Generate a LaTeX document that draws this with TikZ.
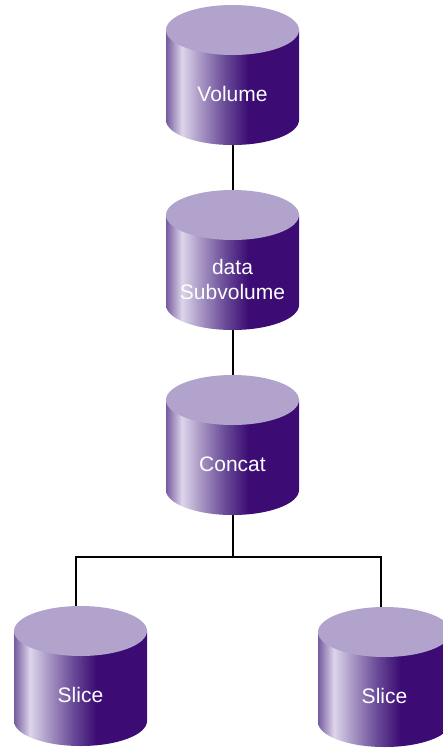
\documentclass[tikz,border=0pt]{standalone}
\usepackage{fontspec}
\setmainfont{Liberation Sans}
\usetikzlibrary{backgrounds}
\definecolor{cyltop}{HTML}{B1A3CC}
\definecolor{cedge}{HTML}{765A9F}
\definecolor{clight}{HTML}{DDD5EA}
\definecolor{cmida}{HTML}{A896C4}
\definecolor{cmidb}{HTML}{6A4C98}
\definecolor{cdark}{HTML}{3C0B74}
\pgfdeclarehorizontalshading{cylshade}{100bp}{color(0bp)=(cedge); color(25bp)=(cedge); color(31bp)=(clight); color(38bp)=(cmida); color(47bp)=(cmidb); color(56bp)=(cdark); color(100bp)=(cdark)}
\tikzset{
  link/.style={draw=black, line width=2pt},
  cyllabel/.style={text=white, font=\fontsize{21}{25}\selectfont, align=center, inner sep=0pt},
}
\newcommand\mycyl[4]{%
  \begin{scope}[shift={(#2,-#3)}]
    \shade[shading=cylshade] (-66.5,0) -- (-66.5,-90) arc[start angle=180,end angle=360,x radius=66.5,y radius=25] -- (66.5,0) -- cycle;
    \fill[cyltop] (0,0) ellipse[x radius=66.5,y radius=25];
    \coordinate (#1-t) at (0,25);
    \coordinate (#1-b) at (0,-115);
    \node[cyllabel] (#1) at (0,-64) {#4};
  \end{scope}}
\begin{document}
\begin{tikzpicture}[x=1pt,y=1pt]
  \useasboundingbox (0,0) rectangle (443,-748);
  \clip (0,0) rectangle (443,-748);
  \mycyl{vol}{232.5}{30}{Volume}
  \mycyl{sub}{232.5}{215}{data\\Subvolume}
  \mycyl{con}{232.5}{400}{Concat}
  \mycyl{sl1}{80.5}{631}{Slice}
  \mycyl{sl2}{384.5}{632}{Slice}
  \coordinate (j) at (232.5,-557);
  \coordinate (sl1-in) at (76,-606);
  \coordinate (sl2-in) at (381,-607);
  \begin{scope}[on background layer]
    \draw[link] (vol-b) -- (sub-t);
    \draw[link] (sub-b) -- (con-t);
    \draw[link] (con-b) -- (j);
    \draw[link] (sl1-in) |- (j) -| (sl2-in);
  \end{scope}
\end{tikzpicture}
\end{document}
